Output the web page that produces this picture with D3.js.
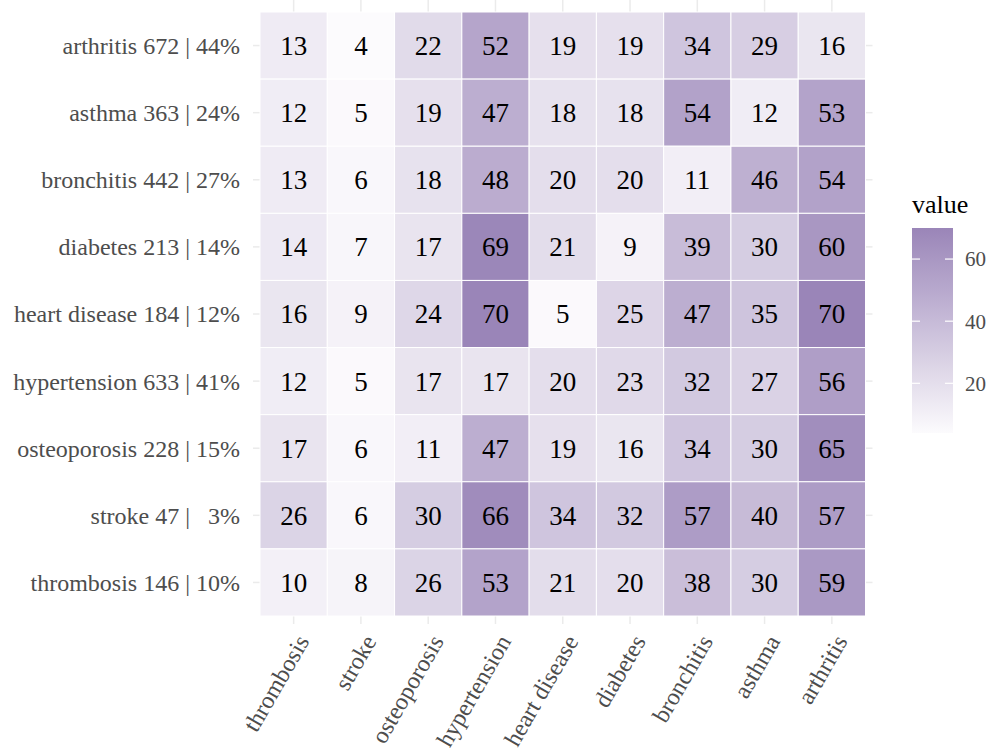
<!DOCTYPE html>
<html>
<head>
<meta charset="utf-8">
<script src="https://cdn.jsdelivr.net/npm/d3@7"></script>
<style>
  body { margin: 0; background: #ffffff; }
  text { font-family: "Liberation Serif", "Times New Roman", serif; }
</style>
</head>
<body>
<svg id="chart" width="1002" height="750"></svg>
<script>
const rowLabels = ["arthritis 672 | 44%", "asthma 363 | 24%", "bronchitis 442 | 27%", "diabetes 213 | 14%",
  "heart disease 184 | 12%", "hypertension 633 | 41%", "osteoporosis 228 | 15%", "stroke 47 |   3%", "thrombosis 146 | 10%"];
const colLabels = ["thrombosis", "stroke", "osteoporosis", "hypertension", "heart disease", "diabetes", "bronchitis", "asthma", "arthritis"];
const values = [
  [13, 4, 22, 52, 19, 19, 34, 29, 16],
  [12, 5, 19, 47, 18, 18, 54, 12, 53],
  [13, 6, 18, 48, 20, 20, 11, 46, 54],
  [14, 7, 17, 69, 21, 9, 39, 30, 60],
  [16, 9, 24, 70, 5, 25, 47, 35, 70],
  [12, 5, 17, 17, 20, 23, 32, 27, 56],
  [17, 6, 11, 47, 19, 16, 34, 30, 65],
  [26, 6, 30, 66, 34, 32, 57, 40, 57],
  [10, 8, 26, 53, 21, 20, 38, 30, 59]
];
const legendTicks = [20, 40, 60];
const legendTitle = "value";

(function () {
const svg = d3.select("#chart");
const pLeft = 260, pRight = 865.5, pTop = 12, pBottom = 616;

const x = d3.scaleBand().domain(colLabels).range([pLeft, pRight]).padding(0);
const y = d3.scaleBand().domain(rowLabels).range([pTop, pBottom]).padding(0);
const vmin = d3.min(values.flat()), vmax = d3.max(values.flat());
const color = d3.scaleLinear().domain([vmin, vmax]).range(["#fcfbfd", "#9a85b8"]).interpolate(d3.interpolateRgb);

// grid stubs around panel
const gridCol = "#ebebeb";
const g = svg.append("g");
colLabels.forEach(c => {
  const cx = x(c) + x.bandwidth() / 2;
  g.append("line").attr("x1", cx).attr("x2", cx).attr("y1", 0).attr("y2", pTop).attr("stroke", gridCol).attr("stroke-width", 1.5);
  g.append("line").attr("x1", cx).attr("x2", cx).attr("y1", pBottom).attr("y2", pBottom + 8).attr("stroke", gridCol).attr("stroke-width", 1.5);
});
rowLabels.forEach(r => {
  const cy = y(r) + y.bandwidth() / 2;
  g.append("line").attr("x1", pLeft - 7).attr("x2", pLeft).attr("y1", cy).attr("y2", cy).attr("stroke", gridCol).attr("stroke-width", 1.5);
  g.append("line").attr("x1", pRight).attr("x2", pRight + 7).attr("y1", cy).attr("y2", cy).attr("stroke", gridCol).attr("stroke-width", 1.5);
});

const cells = [];
values.forEach((row, i) => row.forEach((v, j) => cells.push({ r: rowLabels[i], c: colLabels[j], v })));

svg.append("g").selectAll("rect").data(cells).join("rect")
  .attr("x", d => x(d.c)).attr("y", d => y(d.r))
  .attr("width", x.bandwidth()).attr("height", y.bandwidth())
  .attr("fill", d => color(d.v))
  .attr("stroke", "#ffffff").attr("stroke-width", 1);

svg.append("g").selectAll("text").data(cells).join("text")
  .attr("x", d => x(d.c) + x.bandwidth() / 2)
  .attr("y", d => y(d.r) + y.bandwidth() / 2)
  .attr("dy", "0.35em")
  .attr("text-anchor", "middle")
  .attr("font-size", 27)
  .attr("fill", "#000000")
  .text(d => d.v);

// y labels
svg.append("g").selectAll("text").data(rowLabels).join("text")
  .attr("x", 240)
  .attr("y", d => y(d) + y.bandwidth() / 2)
  .attr("dy", "0.35em")
  .attr("text-anchor", "end")
  .attr("font-size", 24)
  .attr("fill", "#4d4d4d")
  .style("white-space", "pre")
  .text(d => d);

// x labels
svg.append("g").selectAll("text").data(colLabels).join("text")
  .attr("transform", d => `translate(${x(d) + x.bandwidth() / 2 + 9},${637}) rotate(-60)`)
  .attr("dy", "0.35em")
  .attr("text-anchor", "end")
  .attr("font-size", 24)
  .attr("fill", "#4d4d4d")
  .text(d => d);

// legend
const lx = 912, lw = 41, ly0 = 228, ly1 = 433;
const ly = d3.scaleLinear().domain([vmin, vmax]).range([ly1, ly0]);
const defs = svg.append("defs");
const grad = defs.append("linearGradient").attr("id", "lg").attr("x1", 0).attr("x2", 0).attr("y1", 1).attr("y2", 0);
d3.range(0, 1.0001, 0.1).forEach(t => {
  grad.append("stop").attr("offset", t).attr("stop-color", color(vmin + t * (vmax - vmin)));
});
svg.append("rect").attr("x", lx).attr("y", ly0).attr("width", lw).attr("height", ly1 - ly0).attr("fill", "url(#lg)");
legendTicks.forEach(t => {
  svg.append("line").attr("x1", lx).attr("x2", lx + 8).attr("y1", ly(t)).attr("y2", ly(t)).attr("stroke", "#ffffff").attr("stroke-width", 1.2);
  svg.append("line").attr("x1", lx + lw - 8).attr("x2", lx + lw).attr("y1", ly(t)).attr("y2", ly(t)).attr("stroke", "#ffffff").attr("stroke-width", 1.2);
  svg.append("text").attr("x", lx + lw + 12).attr("y", ly(t)).attr("dy", "0.35em")
    .attr("font-size", 21).attr("fill", "#4d4d4d").text(t);
});
svg.append("text").attr("x", lx).attr("y", 213).attr("font-size", 26).attr("fill", "#000000").text(legendTitle);
})();
</script>
</body>
</html>
